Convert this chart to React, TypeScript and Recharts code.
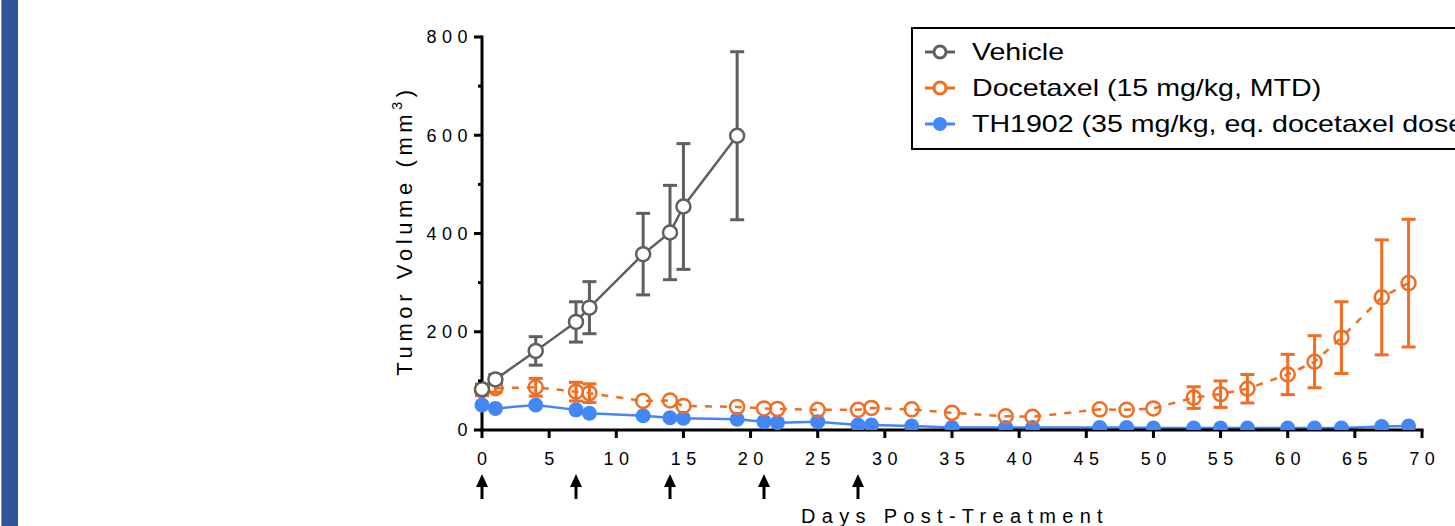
import React from "react";
import { LineChart, Line, XAxis, YAxis, ErrorBar, Legend, Label } from "recharts";

// days of measurement (vehicle group stops at day 19)
const days = [0, 1, 4, 7, 8, 12, 14, 15, 19, 21, 22, 25, 28, 29, 32, 35, 39, 41, 46, 48, 50, 53, 55, 57, 60, 62, 64, 67, 69];

const vehicleMean = [83, 103, 161, 220, 249, 358, 402, 455, 599];
const vehicleSem = [10, 10, 29, 41, 53, 83, 96, 128, 171];

const docetaxelMean = [81, 85, 87, 78, 75, 59, 60, 49, 47, 44, 43, 41, 41, 45, 42, 35, 28, 27, 42, 41, 44, 66, 73, 84, 113, 139, 188, 270, 299];
const docetaxelSem = [11, 8, 18, 19, 19, 0, 0, 0, 0, 0, 0, 0, 0, 0, 0, 0, 0, 0, 0, 0, 0, 22, 27, 29, 41, 53, 73, 117, 130];

const th1902Mean = [51, 44, 51, 41, 34, 29, 25, 24, 22, 17, 15, 17, 10, 10, 8, 5, 5, 5, 5, 5, 4, 4, 4, 4, 4, 4, 4, 7, 8];

const doseDays = [0, 7, 14, 21, 28];
const xTicks = [0, 5, 10, 15, 20, 25, 30, 35, 40, 45, 50, 55, 60, 65, 70];
const yTicks = [0, 100, 200, 300, 400, 500, 600, 700, 800];

const seriesNames = ["Vehicle", "Docetaxel (15 mg/kg, MTD)", "TH1902 (35 mg/kg, eq. docetaxel dose)"];

const GRAY = "#5f5f5f";
const ORANGE = "#f26d21";
const BLUE = "#4287f5";
const FONT = "'Liberation Sans', Arial, Helvetica, sans-serif";

const chartData = days.map((d, i) => ({
  day: d,
  vehicle: vehicleMean[i] ?? null,
  vehicleErr: vehicleSem[i] ?? null,
  docetaxel: docetaxelMean[i],
  docetaxelErr: docetaxelSem[i],
  th1902: th1902Mean[i],
}));

const YTick = ({ x, y, payload }: any) => {
  const major = payload.value % 200 === 0;
  return (
    <g>
      <line x1={x - (major ? 8 : 4)} x2={x} y1={y} y2={y} stroke="#000" strokeWidth={3} />
      {major && (
        <text x={x - 9} y={y} dy="0.35em" textAnchor="end" fontSize={18} letterSpacing={5.5} fill="#000" fontFamily={FONT}>
          {payload.value}
        </text>
      )}
    </g>
  );
};

const XTick = ({ x, y, payload }: any) => (
  <g>
    <line x1={x} x2={x} y1={y} y2={y + 8} stroke="#000" strokeWidth={3} />
    <text x={x} y={y + 29} dx={2.75} dy="0.35em" textAnchor="middle" fontSize={18} letterSpacing={5.5} fill="#000" fontFamily={FONT}>
      {payload.value}
    </text>
  </g>
);

// dosing arrows under the x axis (this axis sits 1px below the main one)
const DoseArrow = ({ x, y }: any) => (
  <g>
    <path d={`M${x},${y + 43} L${x - 6},${y + 56} L${x + 6},${y + 56} Z`} fill="#000" />
    <line x1={x} x2={x} y1={y + 54} y2={y + 68} stroke="#000" strokeWidth={3} />
  </g>
);

const LegendBox = () => {
  const colors = [GRAY, ORANGE, BLUE];
  return (
    <div style={{ position: "relative", width: 600, height: 119, border: "2px solid #000", background: "#fff", fontFamily: FONT }}>
      {seriesNames.map((name, i) => (
        <div key={name} style={{ position: "absolute", left: 0, top: 23 + i * 36 - 15, height: 30, display: "flex", alignItems: "center" }}>
          <svg width={58} height={30} style={{ display: "block" }}>
            <line x1={12} x2={42} y1={15} y2={15} stroke={colors[i]} strokeWidth={3} />
            <circle cx={27} cy={15} r={i === 2 ? 7 : 6} fill={i === 2 ? colors[i] : "#fff"} stroke={colors[i]} strokeWidth={i === 2 ? 0 : 3} />
          </svg>
          <span style={{ fontSize: 24, color: "#000", whiteSpace: "nowrap", marginLeft: 1, display: "inline-block", transform: "scaleX(1.19)", transformOrigin: "left center" }}>
            {name}
          </span>
        </div>
      ))}
    </div>
  );
};

export default function App() {
  return (
    <div style={{ position: "absolute", left: 0, top: 0, width: 1455, height: 526, overflow: "hidden", background: "#fff" }}>
      <div style={{ position: "absolute", left: 1, top: 0, width: 16, height: 526, background: "#2f5597", borderLeft: "1px solid #7290c8" }} />
      <LineChart width={1455} height={526} data={chartData} margin={{ top: 37, right: 33, bottom: 94, left: 481 }}>
        <XAxis
          xAxisId={0}
          dataKey="day"
          type="number"
          domain={[0, 70]}
          ticks={xTicks}
          height={1}
          tickSize={0}
          tickMargin={0}
          tickLine={false}
          tick={<XTick />}
          axisLine={{ stroke: "#000", strokeWidth: 3, strokeLinecap: "square" }}
          interval={0}
        >
          <Label
            content={({ viewBox }: any) => (
              <text x={viewBox.x + viewBox.width / 2 + 3} y={viewBox.y + 93} textAnchor="middle" fontSize={20} letterSpacing={6.3} fill="#000" fontFamily={FONT}>
                Days Post-Treatment
              </text>
            )}
          />
        </XAxis>
        <XAxis
          xAxisId="dose"
          dataKey="day"
          type="number"
          domain={[0, 70]}
          ticks={doseDays}
          height={1}
          tickSize={0}
          tickMargin={0}
          tickLine={false}
          axisLine={false}
          tick={<DoseArrow />}
          interval={0}
        />
        <YAxis
          type="number"
          domain={[0, 800]}
          ticks={yTicks}
          width={1}
          tickSize={0}
          tickMargin={0}
          tickLine={false}
          tick={<YTick />}
          axisLine={{ stroke: "#000", strokeWidth: 3, strokeLinecap: "square" }}
          interval={0}
          allowDataOverflow
        >
          <Label
            content={({ viewBox }: any) => {
              const cx = viewBox.x + viewBox.width - 70;
              const cy = viewBox.y + viewBox.height / 2 - 3;
              return (
                <text x={cx} y={cy} transform={`rotate(-90, ${cx}, ${cy})`} textAnchor="middle" fontSize={22} letterSpacing={4.6} fill="#000" fontFamily={FONT}>
                  <tspan>Tumor Volume (mm</tspan>
                  <tspan dy={-10} fontSize={14}>3</tspan>
                  <tspan dy={10}>)</tspan>
                </text>
              );
            }}
          />
        </YAxis>
        <Legend
          layout="vertical"
          align="center"
          verticalAlign="middle"
          content={<LegendBox />}
          wrapperStyle={{ left: 911, top: 27, width: 604 }}
        />
        <Line
          dataKey="th1902"
          name={seriesNames[2]}
          stroke={BLUE}
          strokeWidth={2.5}
          dot={{ r: 7.5, fill: BLUE, stroke: "none" }}
          activeDot={false}
          isAnimationActive={false}
        />
        <Line
          dataKey="docetaxel"
          name={seriesNames[1]}
          stroke={ORANGE}
          strokeWidth={2.5}
          strokeDasharray="7 8"
          dot={{ r: 7, fill: "none", stroke: ORANGE, strokeWidth: 2.5, strokeDasharray: "0" }}
          activeDot={false}
          isAnimationActive={false}
        >
          <ErrorBar dataKey="docetaxelErr" direction="y" width={7} stroke={ORANGE} strokeWidth={3} isAnimationActive={false} />
        </Line>
        <Line
          dataKey="vehicle"
          name={seriesNames[0]}
          stroke={GRAY}
          strokeWidth={2.5}
          dot={{ r: 7, fill: "#fff", stroke: GRAY, strokeWidth: 2.5 }}
          activeDot={false}
          isAnimationActive={false}
        >
          <ErrorBar dataKey="vehicleErr" direction="y" width={7} stroke={GRAY} strokeWidth={3} isAnimationActive={false} />
        </Line>
      </LineChart>
    </div>
  );
}
